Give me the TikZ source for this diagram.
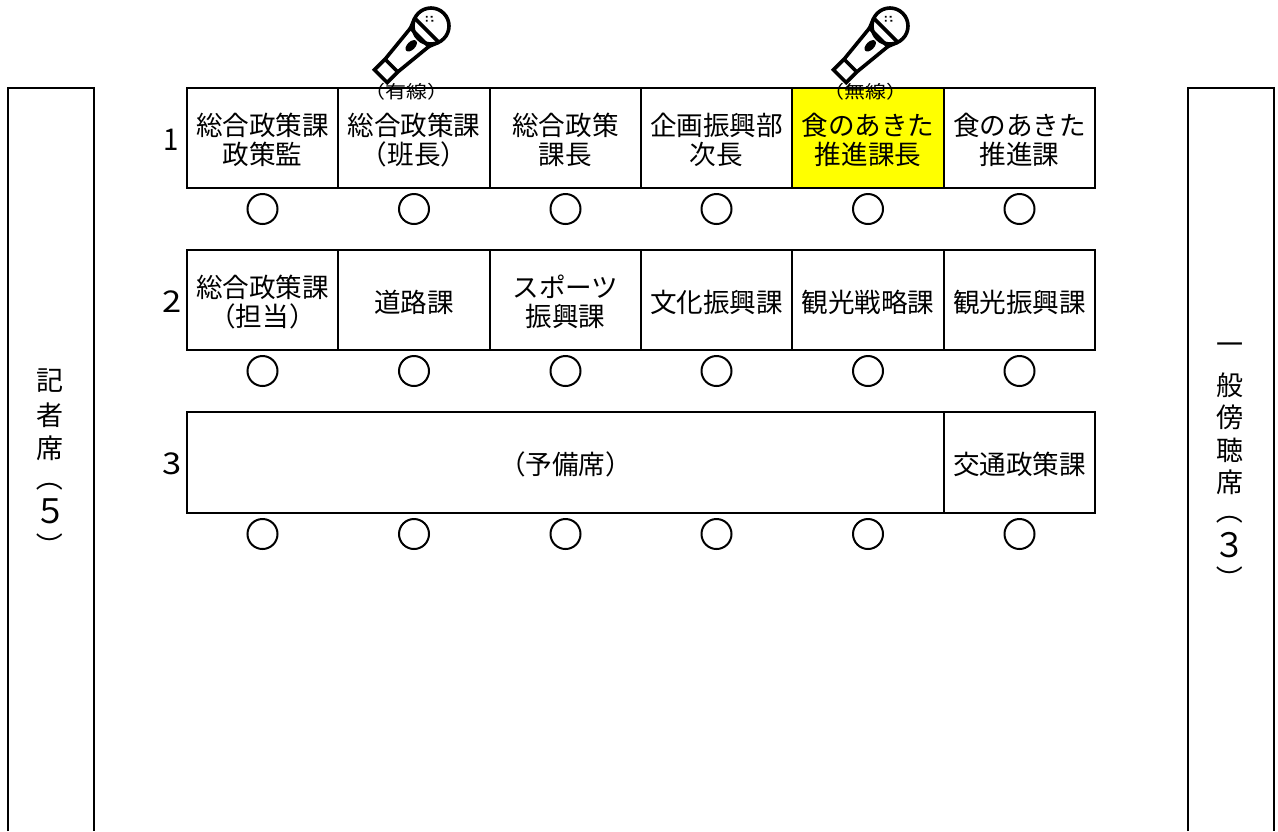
\documentclass[tikz,border=0pt]{standalone}
\usepackage{fontspec}
\setmainfont{Noto Sans CJK JP}
\definecolor{seatyellow}{RGB}{255,255,0}
\tikzset{
  seatbox/.style={draw, line width=2pt},
  seatline/.style={line width=1.8pt},
  seatlabel/.style={align=center, font=\fontsize{26.6}{29}\selectfont, inner sep=0pt},
  sidelabel/.style={font=\fontsize{27}{27}\selectfont, inner sep=0pt},
  sidedigit/.style={sidelabel, xscale=1.2, yscale=1.25},
  rowlabel/.style={font=\fontsize{30}{30}\selectfont, inner sep=0pt, xscale=1.15},
  miclabel/.style={font=\fontsize{21}{21}\selectfont, inner sep=0pt, yscale=0.85},
  chair/.style={draw, circle, line width=2pt, minimum size=30pt, inner sep=0pt},
  micicon/.pic={
    \draw[line width=3.6pt] (0,0) circle (18);
    \draw[line width=3.6pt] (6,-17) -- (6,17);
    \draw[line width=3.6pt] (6,-17) -- (16,-13) -- (16,13) -- (6,17);
    \draw[line width=3.6pt] (16,-13) -- (56,-9) -- (71,-9) -- (71,9) -- (56,9) -- (16,13);
    \draw[line width=3.6pt] (56,-9) -- (56,9);
    \fill (28,0) ellipse (7 and 4);
    \fill (-3.5,-9.6) circle (1.3) (-7,-6.1) circle (1.3) (-0.7,-6.8) circle (1.3) (-4.7,-2.8) circle (1.3);
  }
}
\begin{document}
\begin{tikzpicture}[x=1pt, y=1pt]
  \useasboundingbox (0,0) rectangle (1278,-831);
  % side tables
  \draw[seatbox] (8,-831) -- (8,-88) -- (94,-88) -- (94,-831);
  \draw[seatbox] (1188,-831) -- (1188,-88) -- (1274,-88) -- (1274,-831);
  \foreach \name/\ypos/\txt in {a/381/記, b/415/者, c/448/席}
    \node[sidelabel] (press\name) at (50,-\ypos) {\txt};
  \node[sidedigit] (pressd) at (51,-511) {５};
  \node[sidelabel, rotate=-90] (pressopen) at (50,-478) {（};
  \node[sidelabel, rotate=-90] (pressclose) at (50,-546) {）};
  \foreach \name/\ypos/\txt in {a/349/一, b/385/般, c/417/傍, d/450/聴, e/482/席}
    \node[sidelabel] (public\name) at (1230,-\ypos) {\txt};
  \node[sidedigit] (publicf) at (1230,-545) {３};
  \node[sidelabel, rotate=-90] (publicopen) at (1230,-511) {（};
  \node[sidelabel, rotate=-90] (publicclose) at (1230,-579) {）};

  % row 1
  \fill[seatyellow] (792,-88) rectangle (944,-188);
  \draw[seatbox] (187,-88) rectangle (1095,-188);
  \foreach \xpos in {338,490,641,792,944}
    \draw[seatline] (\xpos,-88) -- (\xpos,-188);
  \node[rowlabel, xscale=0.8] (rowa) at (171,-140) {1};
  \foreach \name/\xpos/\txt in {
    a/262.5/総合政策課\\政策監, b/414/総合政策課\\（班長）, c/565.5/総合政策\\課長,
    d/716.5/企画振興部\\次長, e/868/食のあきた\\推進課長, f/1019.5/食のあきた\\推進課}
    \node[seatlabel] (seat\name) at (\xpos,-140) {\txt};

  % row 2
  \draw[seatbox] (187,-250) rectangle (1095,-350);
  \foreach \xpos in {338,490,641,792,944}
    \draw[seatline] (\xpos,-250) -- (\xpos,-350);
  \node[rowlabel] (rowb) at (172,-302) {2};
  \foreach \name/\xpos/\txt in {
    a/262.5/総合政策課\\（担当）, b/414/道路課, c/565.5/スポーツ\\振興課,
    d/716.5/文化振興課, e/868/観光戦略課, f/1019.5/観光振興課}
    \node[seatlabel] (seatb\name) at (\xpos,-302) {\txt};

  % row 3
  \draw[seatbox] (187,-412) rectangle (1095,-513);
  \draw[seatline] (944,-412) -- (944,-513);
  \node[rowlabel] (rowc) at (172,-464) {3};
  \node[seatlabel] (spare) at (565.5,-464) {（予備席）};
  \node[seatlabel] (traffic) at (1019.5,-464) {交通政策課};

  % chairs
  \foreach \rowname/\ypos in {a/209,b/371,c/534}
    \foreach \name/\xpos in {a/262.5,b/414,c/565.5,d/716.5,e/868,f/1019.5}
      \node[chair] (chair\rowname\name) at (\xpos,-\ypos) {};

  % microphones
  \path (431,-26) pic[rotate=-135] {micicon};
  \path (890,-26) pic[rotate=-135] {micicon};
  \node[miclabel] (wired) at (406,-92) {（有線）};
  \node[miclabel] (wireless) at (865,-92) {（無線）};
\end{tikzpicture}
\end{document}
